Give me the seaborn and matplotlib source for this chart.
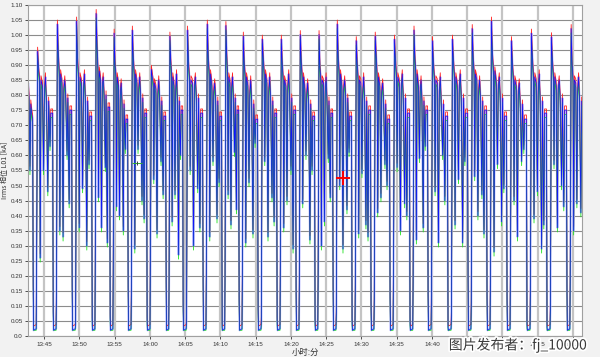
import numpy as np
import pandas as pd
import matplotlib
matplotlib.use('Agg')
import matplotlib.pyplot as plt
import matplotlib.dates as mdates
import matplotlib.patheffects as pe
import seaborn as sns

# Dwell (current ~0) start times, minutes after 13:45
dwell_min = [-1.56, 1.28, 3.97, 6.81, 9.36, 11.91, 14.60, 17.30, 19.71, 22.54,
             25.24, 27.65, 30.34, 33.04, 35.73, 38.42, 40.98, 43.67, 46.36, 49.06,
             51.89, 54.45, 57.28, 60.12, 62.81, 65.65, 68.48, 71.32, 74.15, 76.85]

# per cycle values [kA]
peak_kA = [0.945, 1.035, 1.045, 1.07, 1.005, 1.015, 0.885, 0.995, 1.015, 1.035,
           1.03, 0.995, 0.985, 0.985, 1.0, 1.0, 1.035, 0.98, 0.995, 0.985,
           1.015, 0.98, 0.985, 1.02, 1.045, 0.98, 1.005, 0.993, 1.02]
hi1_kA = [0.88, 0.93, 0.91, 0.96, 0.90, 0.92, 0.86, 0.91, 0.90, 0.92,
          0.93, 0.90, 0.92, 0.90, 0.91, 0.89, 0.92, 0.90, 0.93, 0.91,
          0.92, 0.90, 0.91, 0.92, 0.93, 0.90, 0.92, 0.91, 0.90]
hi2_kA = [0.85, 0.87, 0.86, 0.88, 0.86, 0.87, 0.84, 0.86, 0.85, 0.87,
          0.86, 0.86, 0.87, 0.85, 0.86, 0.85, 0.87, 0.85, 0.86, 0.86,
          0.87, 0.85, 0.86, 0.87, 0.88, 0.85, 0.86, 0.86, 0.85]
hi3_kA = [0.83, 0.84, 0.84, 0.85, 0.83, 0.84, 0.82, 0.83, 0.84, 0.83,
          0.84, 0.83, 0.84, 0.83, 0.82, 0.84, 0.83, 0.84, 0.83, 0.84,
          0.83, 0.84, 0.83, 0.85, 0.84, 0.83, 0.84, 0.83, 0.84]
spike_kA = [0.86, 0.85, 0.87, 0.86, 0.84, 0.86, 0.85, 0.87, 0.86, 0.84,
            0.86, 0.85, 0.86, 0.87, 0.84, 0.86, 0.85, 0.86, 0.84, 0.87,
            0.85, 0.86, 0.87, 0.85, 0.86, 0.84, 0.87, 0.85, 0.86]
hi4_kA = [0.81, 0.82, 0.81, 0.83, 0.80, 0.82, 0.80, 0.81, 0.82, 0.81,
          0.82, 0.80, 0.81, 0.82, 0.80, 0.81, 0.82, 0.80, 0.81, 0.82,
          0.81, 0.80, 0.82, 0.81, 0.82, 0.80, 0.81, 0.82, 0.81]
hi5_kA = [0.78, 0.79, 0.78, 0.80, 0.77, 0.79, 0.78, 0.78, 0.79, 0.78,
          0.79, 0.77, 0.78, 0.79, 0.77, 0.78, 0.79, 0.78, 0.77, 0.79,
          0.78, 0.77, 0.79, 0.78, 0.79, 0.77, 0.78, 0.79, 0.78]
end_kA = [0.74, 0.75, 0.73, 0.76, 0.72, 0.74, 0.73, 0.75, 0.74, 0.73,
          0.75, 0.72, 0.74, 0.75, 0.73, 0.74, 0.73, 0.75, 0.72, 0.74,
          0.75, 0.73, 0.74, 0.75, 0.73, 0.72, 0.74, 0.75, 0.77]
dip1_kA = [0.26, 0.35, 0.36, 0.46, 0.43, 0.29, 0.52, 0.38, 0.55, 0.33,
           0.47, 0.31, 0.58, 0.36, 0.44, 0.30, 0.50, 0.34, 0.41, 0.56,
           0.32, 0.48, 0.37, 0.53, 0.28, 0.45, 0.39, 0.57, 0.35]
dip2_kA = [0.55, 0.33, 0.49, 0.36, 0.40, 0.62, 0.34, 0.47, 0.30, 0.58,
           0.37, 0.51, 0.33, 0.45, 0.60, 0.38, 0.29, 0.54, 0.46, 0.35,
           0.59, 0.31, 0.52, 0.40, 0.57, 0.33, 0.48, 0.36, 0.44]
dip3_kA = [0.48, 0.60, 0.30, 0.56, 0.35, 0.45, 0.58, 0.27, 0.49, 0.39,
           0.61, 0.34, 0.46, 0.55, 0.32, 0.59, 0.42, 0.37, 0.57, 0.44,
           0.36, 0.60, 0.31, 0.47, 0.38, 0.58, 0.29, 0.50, 0.41]
dip4_kA = [0.63, 0.44, 0.57, 0.31, 0.62, 0.39, 0.47, 0.60, 0.36, 0.51,
           0.42, 0.64, 0.38, 0.29, 0.55, 0.46, 0.61, 0.33, 0.50, 0.40,
           0.63, 0.45, 0.58, 0.34, 0.49, 0.62, 0.37, 0.43, 0.56]
fall_kA = [0.17, 0.08, 0.16, 0.05, 0.06, 0.16, 0.05, 0.18, 0.10, 0.18,
           0.03, 0.12, 0.09, 0.05, 0.15, 0.05, 0.16, 0.05, 0.10, 0.13,
           0.05, 0.14, 0.03, 0.19, 0.13, 0.12, 0.04, 0.03, 0.15]
rise_kA = [0.26, 0.14, 0.04, 0.23, 0.21, 0.15, 0.25, 0.17, 0.06, 0.21,
           0.20, 0.19, 0.05, 0.24, 0.17, 0.20, 0.08, 0.16, 0.12, 0.22,
           0.18, 0.14, 0.07, 0.11, 0.19, 0.23, 0.16, 0.10, 0.18]
bottom_kA = 0.02

# partial cycle at the left edge
lead_min = [-2.40, -2.27, -2.15, -2.02, -1.90, -1.78, -1.64]
lead_kA = [0.83, 0.84, 0.79, 0.55, 0.77, 0.74, 0.72]

# max (red) and min (green) traces sit this far from the blue one
red_off = 0.014
green_off = -0.014

green_mark = (13.19, 0.574)
red_mark = (42.39, 0.525)

# build the blue trace
t = list(lead_min)
v = list(lead_kA)
for i in range(len(peak_kA)):
    d0 = dwell_min[i]
    P = dwell_min[i + 1] - d0
    pts = [(0.00, fall_kA[i]), (0.02, bottom_kA), (0.15, bottom_kA + 0.005),
           (0.17, rise_kA[i]), (0.22, peak_kA[i]), (0.27, hi1_kA[i]),
           (0.32, hi2_kA[i]), (0.35, dip1_kA[i]), (0.39, hi2_kA[i]),
           (0.46, hi3_kA[i]), (0.52, dip2_kA[i]), (0.56, hi4_kA[i]),
           (0.61, spike_kA[i]), (0.66, hi5_kA[i]), (0.73, dip3_kA[i]),
           (0.77, hi5_kA[i]), (0.84, dip4_kA[i]), (0.88, end_kA[i]),
           (0.97, end_kA[i])]
    for f, val in pts:
        t.append(d0 + f * P)
        v.append(val)

base = pd.Timestamp('2017-01-01 13:45:00')
times = base + pd.to_timedelta(t, unit='m')
df = pd.DataFrame({'time': times, 'blue': v})
df['red'] = df['blue'] + red_off
df['green'] = (df['blue'] + green_off).clip(lower=bottom_kA)

sns.set_style('white')
plt.rcParams['font.family'] = ['Liberation Sans', 'Noto Sans CJK SC', 'DejaVu Sans']

fig = plt.figure(figsize=(6, 3.57), dpi=100, facecolor='#f2f2f2')
ax = fig.add_axes([0.047, 0.058, 0.923, 0.929])
ax.set_facecolor('white')

kw = dict(x='time', sort=False, estimator=None, ax=ax, legend=False)
sns.lineplot(data=df, y='blue', color='#b4b4ff', linewidth=1.5, **kw)
sns.lineplot(data=df, y='red', color='#ff2020', linewidth=0.6, **kw)
sns.lineplot(data=df, y='green', color='#20e020', linewidth=0.6, **kw)
sns.lineplot(data=df, y='blue', color='#1010ff', linewidth=0.5, **kw)

gm = pd.DataFrame({'time': [base + pd.Timedelta(minutes=green_mark[0])], 'v': [green_mark[1]]})
rm = pd.DataFrame({'time': [base + pd.Timedelta(minutes=red_mark[0])], 'v': [red_mark[1]]})
sns.scatterplot(data=gm, x='time', y='v', marker='_', s=50, color='#30b030', linewidth=0.7, ax=ax, zorder=5)
sns.scatterplot(data=gm, x='time', y='v', marker='|', s=5, color='#404040', linewidth=0.7, ax=ax, zorder=5)
sns.scatterplot(data=rm, x='time', y='v', marker='+', s=90, color='#ff0000', linewidth=1.4, ax=ax, zorder=5)

ax.set_xlim(base + pd.Timedelta(minutes=-2.27), base + pd.Timedelta(minutes=76.28))
ax.set_ylim(0, 1.10)
yt = np.round(np.arange(0, 1.101, 0.05), 2)
ax.set_yticks(yt)
ax.set_yticklabels(['0.0'] + ['%.2f' % y for y in yt[1:]])
ax.xaxis.set_major_locator(mdates.MinuteLocator(byminute=range(0, 60, 5)))
ax.xaxis.set_major_formatter(mdates.DateFormatter('%H:%M'))

ax.grid(False)
for y in yt:
    ax.axhline(y, color='#8c8c8c', linewidth=0.8, zorder=0)
for xt in ax.get_xticks():
    ax.axvline(xt, color='#c4c4c4', linewidth=1.6, zorder=0)

ax.tick_params(axis='both', labelsize=4.5, colors='#333333', length=2.5, width=0.6, pad=1.5)
ax.tick_params(axis='y', left=True)
ax.tick_params(axis='x', bottom=True)
for s in ax.spines.values():
    s.set_color('#a0a0a0')
    s.set_linewidth(0.8)

ax.set_xlabel('小时:分', fontsize=6, color='#333333', labelpad=1,
              family=['Noto Sans CJK SC', 'DejaVu Sans'])
ax.set_ylabel('Irms 相位 L01 [kA]', fontsize=5, color='#333333',
              family=['Noto Sans CJK SC', 'DejaVu Sans'])
ax.yaxis.set_label_coords(-0.034, 0.5)

fig.text(0.748, 0.034, '图片发布者：fj_10000', fontsize=10, color='#3a3a3a',
         va='center', ha='left', family=['Noto Sans CJK SC', 'DejaVu Sans'], zorder=10,
         path_effects=[pe.withStroke(linewidth=2.5, foreground='white')])

fig.savefig('out.png', dpi=100, facecolor=fig.get_facecolor())
